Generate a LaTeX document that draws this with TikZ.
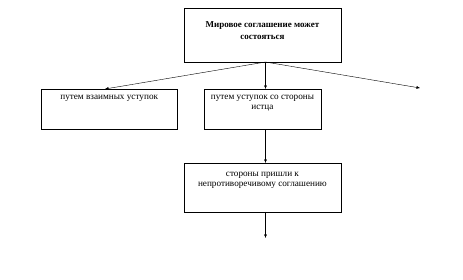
\documentclass[tikz,border=0pt]{standalone}
\usepackage{fontspec}
\setmainfont{Liberation Serif}
\usetikzlibrary{positioning,arrows.meta}
\begin{document}
\begin{tikzpicture}
[
    x=1pt, y=-1pt,
    box/.style={draw, thin, anchor=north west, inner sep=0pt},
    caption/.style={font=\fontsize{9.2}{10}\selectfont, align=center, inner sep=0pt},
    link/.style={draw, thin, -{Latex[length=3.5pt,width=3pt]}}
]
    \useasboundingbox (0,0) rectangle (463,279);

    % top box
    \node [box, minimum width=156.5pt, minimum height=54.5pt] (deal) at (184,7.5) {};
    \node [caption, font=\fontsize{9}{12}\selectfont\bfseries, below=14pt of deal.north] (dealtext)
        {Мировое соглашение может\\состояться};
    \coordinate (hub) at (265.5,62);

    % second row
    \node [box, minimum width=136pt, minimum height=40pt] (mutual) at (41,89) {};
    \node [caption, below=6pt of mutual.north] (mutualtext) {путем взаимных уступок};

    \node [box, minimum width=116.5pt, minimum height=40pt] (plaintiff) at (204,89) {};
    \node [caption, below=6pt of plaintiff.north] (plaintifftext)
        {путем уступок со стороны\\истца};

    \coordinate (third) at (420,88);

    % bottom box
    \node [box, minimum width=156.5pt, minimum height=48.5pt] (agreed) at (184,163) {};
    \node [caption, below=8.5pt of agreed.north] (agreedtext)
        {стороны пришли к\\непротиворечивому соглашению};

    \coordinate (next) at (265.5,238);

    % connectors
    \draw [link] (hub) -- (mutual.north -| 105,0);
    \draw [link] (hub) -- (plaintiff.north -| hub);
    \draw [link] (hub) -- (third);
    \draw [link] (plaintiff.south -| hub) -- (agreed.north -| hub);
    \draw [link] (agreed.south -| hub) -- (next);
\end{tikzpicture}
\end{document}
